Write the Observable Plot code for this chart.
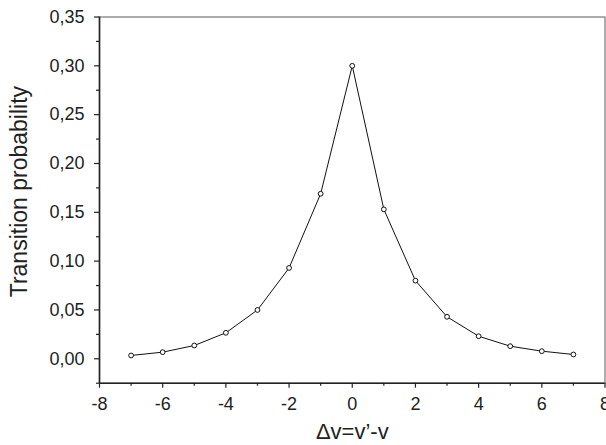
<!DOCTYPE html>
<html>
<head>
<meta charset="utf-8">
<script src="https://cdn.jsdelivr.net/npm/d3@7"></script>
<script src="https://cdn.jsdelivr.net/npm/@observablehq/plot@0.6"></script>
<style>
  html, body { margin: 0; padding: 0; background: white; overflow: hidden; }
  svg { overflow: hidden; }
</style>
</head>
<body>
<div id="chart"></div>
<script>
const dv = [-7, -6, -5, -4, -3, -2, -1, 0, 1, 2, 3, 4, 5, 6, 7];
const prob = [0.0034, 0.0068, 0.0136, 0.0266, 0.050, 0.093, 0.169, 0.300, 0.153, 0.080, 0.043, 0.0231, 0.0129, 0.0078, 0.0044];
const xTicks = [-8, -6, -4, -2, 0, 2, 4, 6, 8];
const xMinor = [-7, -5, -3, -1, 1, 3, 5, 7];
const yTicks = [0, 0.05, 0.10, 0.15, 0.20, 0.25, 0.30, 0.35];
const yMinor = [-0.025, 0.025, 0.075, 0.125, 0.175, 0.225, 0.275, 0.325];
const xLabel = "Δv=v’-v";
const yLabel = "Transition probability";

const data = dv.map((d, i) => ({x: d, y: prob[i]}));
const fmtY = d => d.toFixed(2).replace(".", ",");
const fmtX = d => String(d);

const chart = Plot.plot({
  width: 606,
  height: 445,
  marginLeft: 99,
  marginRight: 1.5,
  marginTop: 16.5,
  marginBottom: 62.3,
  style: {fontFamily: "'Liberation Sans', Arial, sans-serif", fontSize: "18px", background: "white", color: "#222"},
  x: {domain: [-8, 8]},
  y: {domain: [-0.025, 0.35]},
  marks: [
    Plot.frame({stroke: "#777", strokeWidth: 1.2}),
    Plot.axisX({ticks: xMinor, tickSize: 3, text: null, label: null, strokeWidth: 1.2}),
    Plot.axisX({ticks: xTicks, tickSize: 5, tickPadding: 9, tickFormat: fmtX, label: null, strokeWidth: 1.2, fontSize: 18}),
    Plot.axisY({ticks: yMinor, tickSize: 3, text: null, label: null, strokeWidth: 1.2}),
    Plot.axisY({ticks: yTicks, tickSize: 5, tickPadding: 10, tickFormat: fmtY, label: null, strokeWidth: 1.2, fontSize: 18}),
    Plot.ruleX([-8], {stroke: "#222", strokeWidth: 1.6}),
    Plot.ruleY([-0.025], {stroke: "#222", strokeWidth: 1.6}),
    Plot.line(data, {x: "x", y: "y", stroke: "#111", strokeWidth: 1}),
    Plot.dot(data, {x: "x", y: "y", r: 2.4, fill: "white", stroke: "#111", strokeWidth: 1}),
    Plot.text([yLabel], {text: d => d, frameAnchor: "left", textAnchor: "middle", lineAnchor: "middle", rotate: -90, dx: -80, dy: -8.5, fontSize: 23, fill: "#222"}),
    Plot.text([xLabel], {text: d => d, frameAnchor: "bottom", textAnchor: "middle", lineAnchor: "middle", dy: 48.5, fontSize: 22, fill: "#222"})
  ]
});
document.getElementById("chart").appendChild(chart);
</script>
</body>
</html>
